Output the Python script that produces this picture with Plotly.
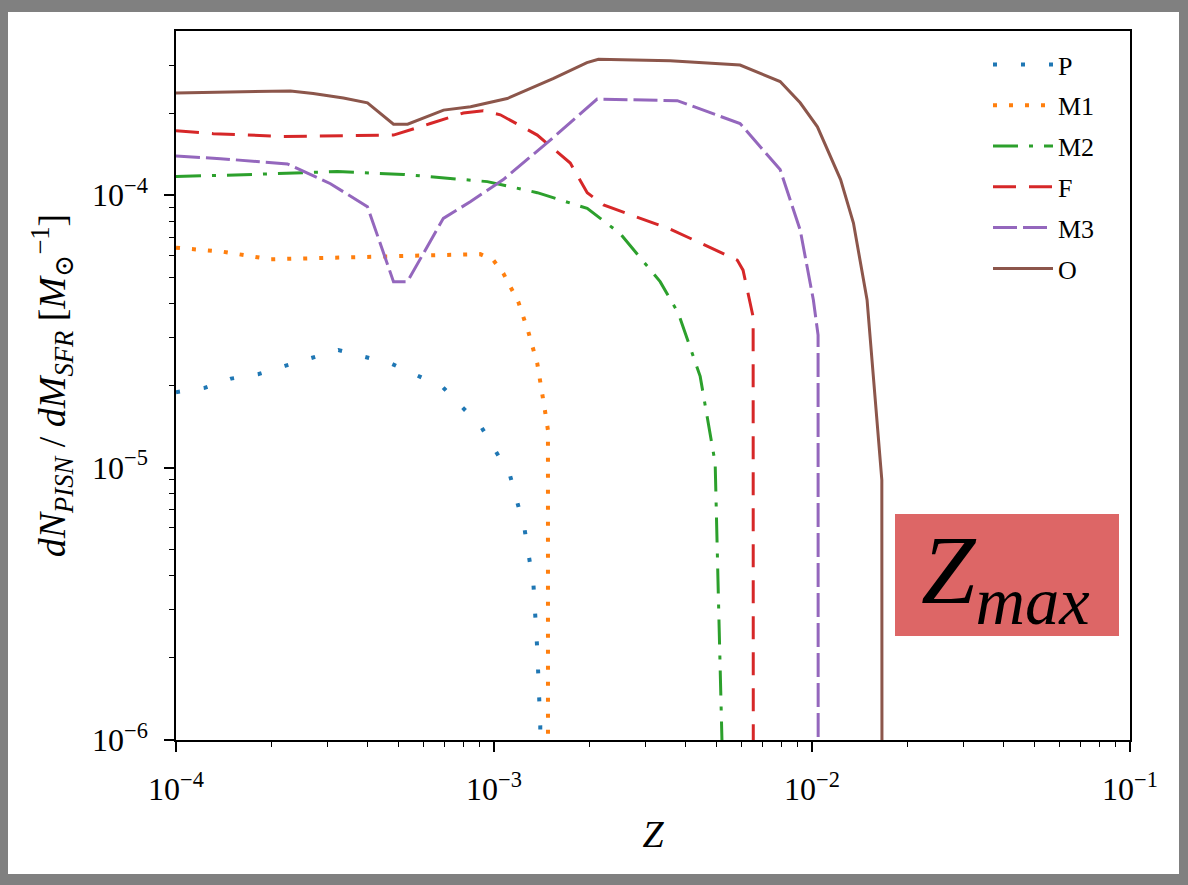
import plotly.graph_objects as go

# ---------------- data ----------------
Z_P = [1.0e-4, 1.23e-4, 1.49e-4, 1.81e-4, 2.20e-4, 3.24e-4, 4.78e-4, 6.91e-4,
       9.12e-4, 1.123e-3, 1.248e-3, 1.331e-3, 1.368e-3, 1.398e-3, 1.40e-3]
P = [1.89e-5, 1.96e-5, 2.12e-5, 2.20e-5, 2.36e-5, 2.70e-5, 2.40e-5, 1.97e-5,
     1.41e-5, 9.36e-6, 5.93e-6, 3.70e-6, 2.14e-6, 1.13e-6, 1e-9]

Z_M1 = [1.0e-4, 1.41e-4, 1.98e-4, 2.85e-4, 5.07e-4, 9.05e-4, 9.95e-4, 1.07e-3,
        1.192e-3, 1.282e-3, 1.368e-3, 1.446e-3, 1.478e-3, 1.479e-3]
M1 = [6.41e-5, 6.19e-5, 5.81e-5, 5.89e-5, 5.97e-5, 6.07e-5, 5.77e-5, 5.16e-5,
      4.06e-5, 3.15e-5, 2.41e-5, 1.62e-5, 1.37e-5, 1e-9]

Z_M2 = [1.0e-4, 1.75e-4, 3.22e-4, 5.19e-4, 9.53e-4, 1.368e-3, 1.964e-3, 2.49e-3,
        3.33e-3, 3.80e-3, 4.45e-3, 4.76e-3, 4.96e-3, 5.08e-3, 5.21e-3, 5.24e-3]
M2 = [1.17e-4, 1.19e-4, 1.22e-4, 1.19e-4, 1.12e-4, 1.02e-4, 8.93e-5, 7.23e-5,
      4.81e-5, 3.68e-5, 2.16e-5, 1.39e-5, 1.04e-5, 3.27e-6, 1.0e-6, 1e-9]

Z_F = [1.0e-4, 1.31e-4, 2.18e-4, 4.08e-4, 4.83e-4, 6.31e-4, 8.01e-4, 9.25e-4,
       1.047e-3, 1.368e-3, 1.737e-3, 1.964e-3, 2.21e-3, 3.58e-3, 5.82e-3,
       6.07e-3, 6.53e-3, 6.55e-3]
F = [1.72e-4, 1.68e-4, 1.64e-4, 1.65e-4, 1.66e-4, 1.83e-4, 2.0e-4, 2.04e-4,
     1.97e-4, 1.66e-4, 1.31e-4, 1.02e-4, 9.19e-5, 7.5e-5, 5.77e-5,
     5.3e-5, 3.57e-5, 1e-9]

Z_M3 = [1.0e-4, 1.38e-4, 2.24e-4, 3.06e-4, 4.0e-4, 4.83e-4, 5.34e-4, 6.93e-4,
        8.42e-4, 1.07e-3, 1.503e-3, 2.11e-3, 3.77e-3, 5.94e-3, 7.94e-3,
        9.18e-3, 1.010e-2, 1.045e-2, 1.047e-2]
M3 = [1.39e-4, 1.36e-4, 1.30e-4, 1.10e-4, 9.06e-5, 4.81e-5, 4.81e-5, 8.21e-5,
      9.45e-5, 1.14e-4, 1.59e-4, 2.25e-4, 2.22e-4, 1.83e-4, 1.24e-4,
      7.44e-5, 4.12e-5, 3.06e-5, 1e-9]

Z_O = [1.0e-4, 2.29e-4, 2.70e-4, 3.36e-4, 4.0e-4, 4.83e-4, 5.35e-4, 6.94e-4,
       8.44e-4, 1.10e-3, 1.54e-3, 1.96e-3, 2.13e-3, 3.58e-3, 5.94e-3, 7.94e-3,
       9.18e-3, 1.04e-2, 1.23e-2, 1.35e-2, 1.49e-2, 1.658e-2, 1.664e-2]
O = [2.37e-4, 2.41e-4, 2.36e-4, 2.27e-4, 2.18e-4, 1.82e-4, 1.82e-4, 2.05e-4,
     2.11e-4, 2.26e-4, 2.68e-4, 3.06e-4, 3.15e-4, 3.11e-4, 3.0e-4, 2.61e-4,
     2.18e-4, 1.78e-4, 1.14e-4, 7.89e-5, 4.12e-5, 9.0e-6, 1e-9]

series_names = ["P", "M1", "M2", "F", "M3", "O"]
x_major = [1e-4, 1e-3, 1e-2, 1e-1]
x_major_text = ["10<sup>−4</sup>", "10<sup>−3</sup>", "10<sup>−2</sup>", "10<sup>−1</sup>"]
y_major = [1e-6, 1e-5, 1e-4]
y_major_text = ["10<sup>−6</sup>", "10<sup>−5</sup>", "10<sup>−4</sup>"]

# ---------------- styling ----------------
colors = ["#1f77b4", "#ff7f0e", "#2ca02c", "#d62728", "#9467bd", "#8c564b"]
dashes = ["4px,24px", "4px,12px", "25px,11px,4px,11px", "23px,13px", "24px,6px", "solid"]
widths = [4, 4, 3, 3, 3, 3]
xs = [Z_P, Z_M1, Z_M2, Z_F, Z_M3, Z_O]
ys = [P, M1, M2, F, M3, O]

W, H = 1188, 885
ML, MR, MT, MB = 176, 58, 31, 145
PL, PR, PT, PB = ML, W - MR, MT, H - MB


def px2x(px):
    return (px - PL) / (PR - PL)


def py2y(py):
    return (PB - py) / (PB - PT)


FONT = "Liberation Serif, Times New Roman, DejaVu Serif, serif"

fig = go.Figure()
for name, x, y, c, d, w in zip(series_names, xs, ys, colors, dashes, widths):
    fig.add_trace(go.Scatter(x=x, y=y, mode="lines", name=name, legendgroup=name,
                             line=dict(color=c, width=w, dash=d)))

minor_x = [m * 10.0 ** e for e in (-4, -3, -2) for m in range(2, 10)]
minor_y = [m * 10.0 ** e for e in (-6, -5, -4) for m in range(2, 10) if m * 10.0 ** e < 4e-4]

axis_common = dict(type="log", showline=True, linecolor="black", linewidth=1.5, mirror=True,
                   ticks="outside", ticklen=10, tickwidth=1.5, tickcolor="black",
                   showgrid=False, zeroline=False, ticklabelstandoff=10,
                   tickfont=dict(family=FONT, size=32, color="black"))

fig.update_xaxes(range=[-4, -1], tickmode="array", tickvals=x_major, ticktext=x_major_text,
                 minor=dict(tickmode="array", tickvals=minor_x, ticks="outside", ticklen=5,
                            tickwidth=1, tickcolor="black", showgrid=False),
                 title=dict(text="<i>Z</i>", font=dict(family=FONT, size=38, color="black"),
                            standoff=14),
                 **axis_common)
fig.update_yaxes(range=[-6, -3.398], tickmode="array", tickvals=y_major, ticktext=y_major_text,
                 minor=dict(tickmode="array", tickvals=minor_y, ticks="outside", ticklen=5,
                            tickwidth=1, tickcolor="black", showgrid=False),
                 title=dict(text="<i>dN</i><sub><i>PISN</i></sub> / <i>dM</i><sub><i>SFR</i></sub>"
                                 " [<i>M</i><sub>⊙</sub><sup>−1</sup>]",
                            font=dict(family=FONT, size=38, color="black"), standoff=15),
                 **axis_common)

shapes = [
    # white page inside the grey frame
    dict(type="rect", xref="paper", yref="paper", layer="below",
         x0=px2x(8), x1=px2x(1179), y0=py2y(874), y1=py2y(12),
         fillcolor="white", line=dict(width=0)),
    # Zmax label box
    dict(type="rect", xref="paper", yref="paper", layer="above",
         x0=px2x(895), x1=px2x(1119), y0=py2y(636), y1=py2y(514),
         fillcolor="#dd6666", line=dict(width=0)),
]

fig.update_layout(
    width=W, height=H,
    margin=dict(l=ML, r=MR, t=MT, b=MB, pad=0),
    paper_bgcolor="#808080", plot_bgcolor="white",
    shapes=shapes,
    showlegend=True,
    legend=dict(x=px2x(988), y=py2y(41), xanchor="left", yanchor="top",
                bgcolor="rgba(0,0,0,0)", borderwidth=0,
                font=dict(family=FONT, size=26, color="black"),
                itemwidth=60, tracegroupgap=4, traceorder="grouped"),
    annotations=[dict(xref="paper", yref="paper", x=px2x(1005), y=py2y(577),
                      text="<i>Z</i><sub><i>max</i></sub>", showarrow=False,
                      xanchor="center", yanchor="middle",
                      font=dict(family=FONT, size=98, color="black"))],
)

fig.write_html("out.html", config={"displayModeBar": False},
               post_script="document.body.style.margin='0';document.body.style.overflow='hidden';")
